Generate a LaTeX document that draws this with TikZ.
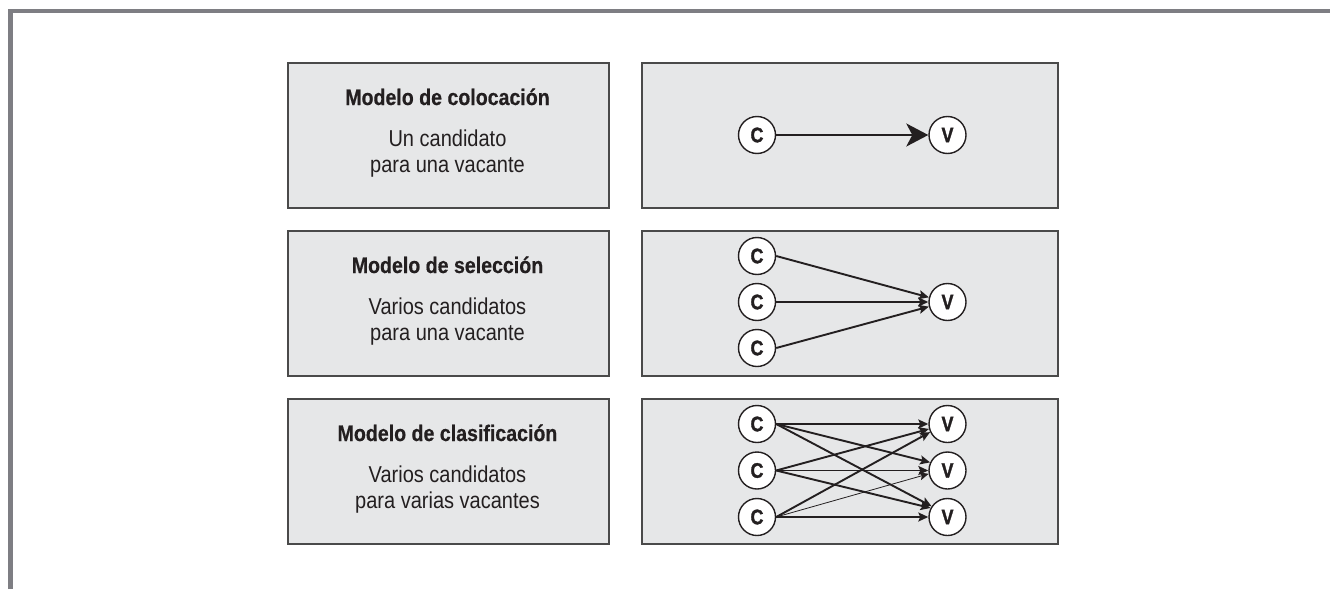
\documentclass[tikz,border=0pt]{standalone}
\usepackage{fontspec}
\setmainfont{Liberation Sans}[FakeStretch=0.87, BoldFeatures={FakeBold=0.5}]
\newfontfamily\heavyfont{Liberation Sans}[FakeStretch=0.85, BoldFeatures={FakeBold=1.5}]
\usetikzlibrary{arrows.meta}
\definecolor{frame}{HTML}{7E7E83}
\definecolor{boxfill}{HTML}{E6E7E8}
\definecolor{boxline}{HTML}{4A4A4A}
\definecolor{ink}{HTML}{231F20}
\tikzset{
  panel/.style={draw=boxline, fill=boxfill, line width=1.7pt, anchor=north west, inner sep=0pt},
  circ/.style={circle, draw=ink, fill=white, line width=1.4pt, minimum size=37pt, inner sep=0pt,
    font=\heavyfont\fontsize{21}{21}\selectfont\bfseries, text=ink},
  ttl/.style={anchor=base, font=\fontsize{22.5}{26}\selectfont\bfseries, text=ink},
  sub/.style={anchor=base, font=\fontsize{23}{26}\selectfont, text=ink},
  arr/.style={-{Stealth[length=10pt,width=9pt,inset=2pt]}, line width=1.9pt, draw=ink},
  thinarr/.style={-{Stealth[length=9pt,width=8pt,inset=2pt]}, line width=0.8pt, draw=ink},
  bigarr/.style={-{Stealth[length=22pt,width=23pt,inset=6pt]}, line width=2.1pt, draw=ink}
}
\begin{document}
\begin{tikzpicture}[x=1pt,y=-1pt]
\useasboundingbox (0,0) rectangle (1330,589);
\fill[white] (0,0) rectangle (1330,589);
% outer frame
\draw[frame, line width=4.6pt, line join=miter] (10.5,589) -- (10.5,11) -- (1330,11);

% panels and texts
\foreach \r/\y/\t/\a/\b in {1/62/Modelo de colocación/Un candidato/para una vacante,
                           2/230/Modelo de selección/Varios candidatos/para una vacante,
                           3/398/Modelo de clasificación/Varios candidatos/para varias vacantes}{
  \node[panel, minimum width=321pt, minimum height=145pt] (L\r) at (287,\y) {};
  \node[panel, minimum width=416pt, minimum height=145pt] (R\r) at (641,\y) {};
  \node[ttl] (T\r) at (447.5,\y+43) {\t};
  \node[sub] (A\r) at (447.5,\y+84) {\a};
  \node[sub] (B\r) at (447.5,\y+110) {\b};
}

% row 1
\node[circ] (ca) at (757,135) {C};
\node[circ] (va) at (947.5,135) {V};
\draw[bigarr] (ca.east) -- (va.west);

% row 2
\node[circ] (cb1) at (757,256) {C};
\node[circ] (cb2) at (757,302) {C};
\node[circ] (cb3) at (757,348) {C};
\node[circ] (vb) at (947.5,302) {V};
\draw[arr] (cb1.east) -- (vb.166);
\draw[arr] (cb2.east) -- (vb.west);
\draw[arr] (cb3.east) -- (vb.194);

% row 3
\node[circ] (cc1) at (757,424) {C};
\node[circ] (cc2) at (757,470.5) {C};
\node[circ] (cc3) at (757,517) {C};
\node[circ] (vc1) at (947.5,424) {V};
\node[circ] (vc2) at (947.5,470.5) {V};
\node[circ] (vc3) at (947.5,517) {V};
\foreach \i/\j/\ang in {1/1/180, 1/2/155, 1/3/146, 2/1/195, 2/2/180, 2/3/152, 3/1/205, 3/3/180}{
  \draw[arr] (cc\i.east) -- (vc\j.\ang);
}
\draw[thinarr] (cc3.east) -- (vc2.190);
\end{tikzpicture}
\end{document}
